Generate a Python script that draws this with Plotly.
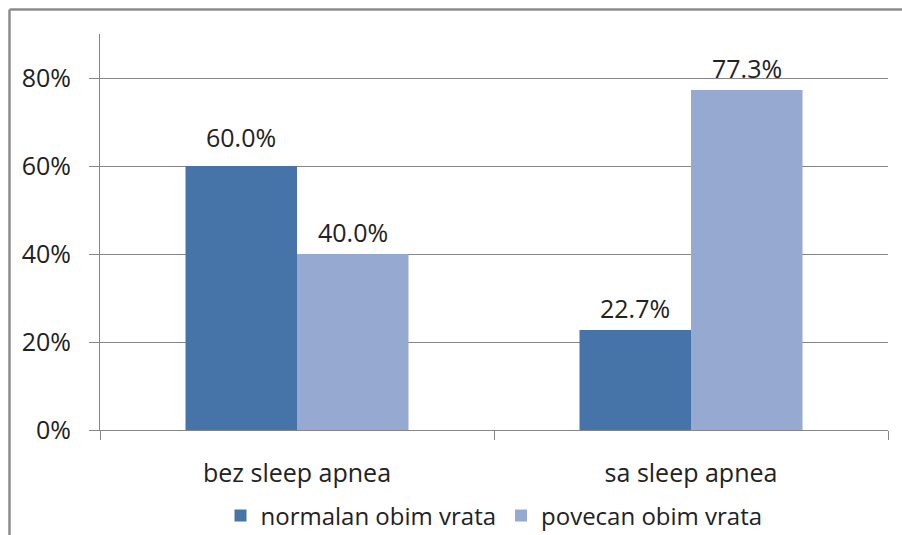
import plotly.graph_objects as go

categories = ["bez sleep apnea", "sa sleep apnea"]
series_names = ["normalan obim vrata", "povecan obim vrata"]
normalan = [0.600, 0.227]
povecan = [0.400, 0.773]
y_ticks = [0, 0.2, 0.4, 0.6, 0.8]
y_tick_labels = ["0%", "20%", "40%", "60%", "80%"]

FONT = "Open Sans"
FS = 25
TXT = "#222222"
COLORS = ["#4673A8", "#95A9D1"]

W, H = 902, 535
L, R, T, B = 100, 14, 34, 105
plot_w = W - L - R
plot_h = H - T - B
bargap = 0.434
bar_px = plot_w / len(categories) * (1 - bargap) / 2

fig = go.Figure()
for name, vals, col in [(series_names[0], normalan, COLORS[0]),
                        (series_names[1], povecan, COLORS[1])]:
    fig.add_trace(go.Bar(x=categories, y=vals, name=name,
                         marker=dict(color=col, line=dict(width=0))))

# data labels
annotations = []
label_gap = {(0, 0): 29}
for si, vals in enumerate([normalan, povecan]):
    for ci, (cat, v) in enumerate(zip(categories, vals)):
        annotations.append(dict(
            x=cat, y=v, xref="x", yref="y", text=f"{v * 100:.1f}%",
            showarrow=False, xanchor="center", yanchor="middle",
            xshift=(si - 0.5) * bar_px, yshift=label_gap.get((si, ci), 22),
            font=dict(family=FONT, size=FS, color=TXT)))

fy = (H - B - 9.5) / plot_h
fx = (9.5 - L) / plot_w

fig.update_layout(
    width=W, height=H,
    margin=dict(l=L, r=R, t=T, b=B, autoexpand=False),
    paper_bgcolor="white", plot_bgcolor="white",
    barmode="group", bargap=bargap, bargroupgap=0,
    font=dict(family=FONT, size=FS, color=TXT),
    showlegend=True,
    annotations=annotations,
    legend=dict(orientation="h", x=0.5, xanchor="center", y=-0.217, yanchor="middle",
                font=dict(family=FONT, size=FS - 1, color=TXT), itemwidth=30,
                traceorder="normal"),
    xaxis=dict(type="category", tickson="boundaries", ticks="outside", ticklen=9,
               tickcolor="#868686", showline=True, linecolor="#868686", linewidth=1,
               showgrid=False, ticklabelstandoff=21, automargin=False,
               tickfont=dict(family=FONT, size=FS, color=TXT)),
    yaxis=dict(range=[0, 0.9], tickvals=y_ticks, ticktext=y_tick_labels,
               ticks="outside", ticklen=10, tickcolor="#868686",
               showline=True, linecolor="#868686", linewidth=1,
               showgrid=True, gridcolor="#868686", gridwidth=1,
               zeroline=False, ticklabelstandoff=13, automargin=False,
               tickfont=dict(family=FONT, size=FS, color=TXT)),
    shapes=[
        dict(type="line", xref="paper", yref="paper",
             x0=fx, x1=(W + 20 - L) / plot_w, y0=fy, y1=fy,
             line=dict(color="#8C8C8C", width=2.5)),
        dict(type="line", xref="paper", yref="paper",
             x0=fx, x1=fx, y0=fy, y1=-(B + 20) / plot_h,
             line=dict(color="#8C8C8C", width=2.5)),
    ],
)

fig.write_html("out.html", config={"displayModeBar": False},
               post_script="document.body.style.margin='0';document.body.style.overflow='hidden';")
